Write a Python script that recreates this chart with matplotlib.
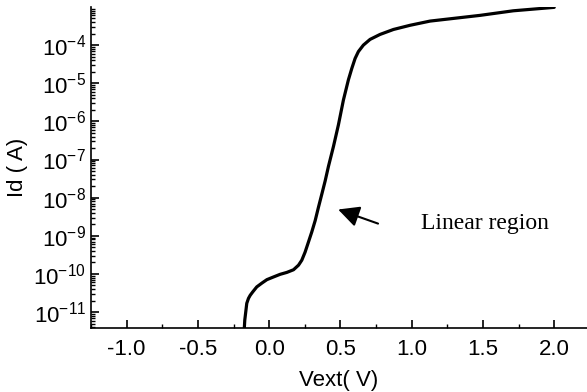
import matplotlib
matplotlib.use('Agg')
import matplotlib.pyplot as plt
from matplotlib.patches import FancyArrowPatch
from matplotlib.ticker import LogLocator, FixedLocator, FuncFormatter, NullFormatter
import numpy as np

# Id-Vext transfer curve (log10 of current)
vext = [-0.175, -0.171, -0.164, -0.157, -0.145, -0.133, -0.115, -0.087, -0.051,
        -0.016, 0.030, 0.077, 0.124, 0.171, 0.206, 0.229, 0.252, 0.276, 0.299,
        0.323, 0.346, 0.370, 0.393, 0.416, 0.451, 0.486, 0.521, 0.556, 0.580,
        0.603, 0.626, 0.661, 0.708, 0.778, 0.872, 0.989, 1.129, 1.480, 1.713, 2.0]
log_id = [-11.47, -11.21, -10.99, -10.77, -10.64, -10.56, -10.47, -10.34, -10.24,
          -10.15, -10.08, -10.01, -9.96, -9.89, -9.77, -9.64, -9.43, -9.16, -8.90,
          -8.60, -8.25, -7.90, -7.56, -7.18, -6.66, -6.09, -5.44, -4.91, -4.61,
          -4.35, -4.17, -4.00, -3.85, -3.72, -3.59, -3.48, -3.37, -3.22, -3.10, -3.01]
x_ticks = [-1.0, -0.5, 0.0, 0.5, 1.0, 1.5, 2.0]
x_minor = [-1.25, -0.75, -0.25, 0.25, 0.75, 1.25, 1.75]
y_decades = [-11, -10, -9, -8, -7, -6, -5, -4]
arrow_tip = (0.484, 10 ** -8.31)
arrow_tail = (0.764, 10 ** -8.68)
note = "Linear region"

plt.rcParams['font.family'] = 'Liberation Sans'
plt.rcParams['mathtext.fontset'] = 'custom'
plt.rcParams['mathtext.rm'] = 'Liberation Sans'

fig = plt.figure(figsize=(5.87, 3.92), dpi=100)
ax = fig.add_axes([0.155, 0.163, 0.845, 0.819])

ax.plot(vext, 10 ** np.array(log_id), color='black', lw=2.3,
        solid_capstyle='round', solid_joinstyle='round')

ax.set_yscale('log')
ax.set_xlim(-1.25, 2.23)
ax.set_ylim(3.8e-12, 0.995e-3)

ax.xaxis.set_major_locator(FixedLocator(x_ticks))
ax.xaxis.set_minor_locator(FixedLocator(x_minor))
ax.xaxis.set_major_formatter(FuncFormatter(lambda v, p: "%.1f" % v))
ax.yaxis.set_major_locator(FixedLocator([10.0 ** d for d in y_decades]))
ax.yaxis.set_minor_locator(LogLocator(base=10, subs=np.arange(2, 10), numticks=20))
ax.yaxis.set_minor_formatter(NullFormatter())
ax.yaxis.set_major_formatter(FuncFormatter(
    lambda v, p: r"$\mathregular{10^{%d}}$" % round(np.log10(v))))

for s in ['top', 'right']:
    ax.spines[s].set_visible(False)
for s in ['left', 'bottom']:
    ax.spines[s].set_linewidth(1.2)

ax.tick_params(which='major', direction='in', length=6, width=1.2, labelsize=16)
ax.tick_params(which='minor', direction='in', length=3, width=1.0)
ax.tick_params(axis='x', pad=8)

ax.set_xlabel("Vext( V)", fontsize=16, labelpad=7)
ax.set_ylabel("Id ( A)", fontsize=16, labelpad=4)

arrow = FancyArrowPatch(arrow_tail, arrow_tip, arrowstyle='-|>', color='black',
                        lw=1.5, mutation_scale=32, shrinkA=0, shrinkB=0)
ax.add_patch(arrow)
ax.text(1.066, 10 ** -8.68, note, fontsize=17, family='Liberation Serif',
        va='center', ha='left')

fig.savefig('out.png', dpi=100)
